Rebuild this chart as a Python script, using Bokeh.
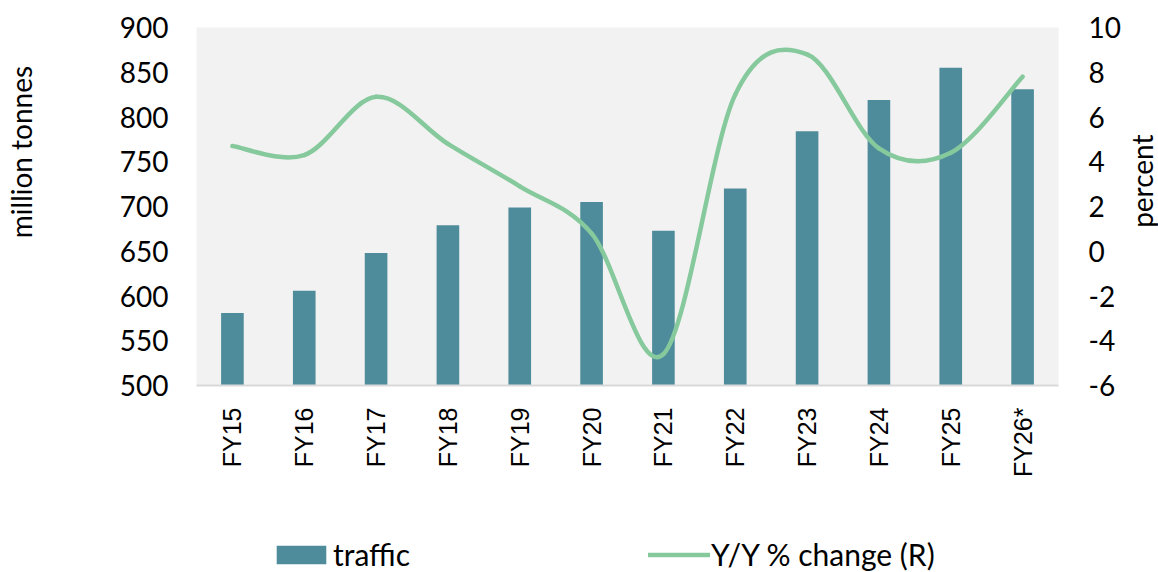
import math
from bokeh.plotting import figure
from bokeh.layouts import column, row
from bokeh.models import (Range1d, LinearAxis, FixedTicker, Legend, LegendItem,
                          Label, ColumnDataSource)
from bokeh.embed import file_html
from bokeh.resources import INLINE

# ---- data ----
categories = ["FY15", "FY16", "FY17", "FY18", "FY19", "FY20",
              "FY21", "FY22", "FY23", "FY24", "FY25", "FY26*"]
traffic = [581, 606, 648, 679, 699, 705, 673, 720, 784, 819, 855, 831]
yoy = [4.7, 4.3, 6.9, 4.8, 2.9, 0.8, -4.6, 7.0, 8.8, 4.6, 4.4, 7.8]
left_ticks = [500, 550, 600, 650, 700, 750, 800, 850, 900]
right_ticks = [-6, -4, -2, 0, 2, 4, 6, 8, 10]

BAR = "#4e8c9b"
LINE = "#86c99c"
NUM_FONT = "Lato"
CAT_FONT = "Liberation Sans"

idx = list(range(len(categories)))

TW = 50      # strip holding the left axis title
RW = 35      # strip holding the right axis title
PW = 1073    # main chart width
PH = 480     # main chart height
LH = 92      # legend strip height


def blank(width, height):
    f = figure(width=width, height=height, output_backend="svg", toolbar_location=None,
               x_range=Range1d(0, width), y_range=Range1d(0, height),
               x_axis_location=None, y_axis_location=None, min_border=0)
    f.grid.visible = False
    f.outline_line_color = None
    f.background_fill_color = "white"
    f.border_fill_color = "white"
    return f


# ---- main chart ----
p = figure(width=PW, height=PH, output_backend="svg", toolbar_location=None,
           x_range=Range1d(-0.5, len(categories) - 0.5),
           y_range=Range1d(left_ticks[0], left_ticks[-1]),
           min_border_left=196 - TW, min_border_right=PW - (196 - TW) - 864,
           min_border_top=27, min_border_bottom=95)
p.extra_y_ranges = {"pct": Range1d(right_ticks[0], right_ticks[-1])}
p.background_fill_color = "#f2f2f2"
p.border_fill_color = "white"
p.outline_line_color = None
p.grid.visible = False

bars = p.vbar(x=idx, top=traffic, bottom=left_ticks[0], width=0.315,
              fill_color=BAR, line_color=None)

# smoothed line (Catmull-Rom bezier segments through the data points)
n = len(yoy)
seg = dict(x0=[], y0=[], x1=[], y1=[], cx0=[], cy0=[], cx1=[], cy1=[])
for i in range(n - 1):
    im = max(i - 1, 0)
    ip = min(i + 2, n - 1)
    seg["x0"].append(idx[i]); seg["y0"].append(yoy[i])
    seg["x1"].append(idx[i + 1]); seg["y1"].append(yoy[i + 1])
    seg["cx0"].append(idx[i] + (idx[i + 1] - idx[im]) / 6)
    seg["cy0"].append(yoy[i] + (yoy[i + 1] - yoy[im]) / 6)
    seg["cx1"].append(idx[i + 1] - (idx[ip] - idx[i]) / 6)
    seg["cy1"].append(yoy[i + 1] - (yoy[ip] - yoy[i]) / 6)
p.bezier(source=ColumnDataSource(seg), x0="x0", y0="y0", x1="x1", y1="y1",
         cx0="cx0", cy0="cy0", cx1="cx1", cy1="cy1",
         y_range_name="pct", line_color=LINE, line_width=4.5, line_cap="round")

xa = p.xaxis[0]
xa.ticker = FixedTicker(ticks=idx)
xa.major_label_overrides = {i: c for i, c in zip(idx, categories)}
xa.major_label_orientation = math.pi / 2
xa.major_label_text_font = CAT_FONT
xa.major_label_text_font_size = "25px"
xa.major_label_text_color = "black"
xa.major_label_standoff = 22
xa.axis_line_color = "#d9d9d9"
xa.axis_line_width = 2
xa.major_tick_line_color = None
xa.major_tick_out = 0
xa.minor_tick_line_color = None

ya = p.yaxis[0]
ya.ticker = FixedTicker(ticks=left_ticks)
ya.major_label_text_font = NUM_FONT
ya.major_label_text_font_size = "28px"
ya.major_label_text_color = "black"
ya.major_label_standoff = 28
ya.major_tick_out = 0
ya.axis_line_color = None
ya.major_tick_line_color = None
ya.minor_tick_line_color = None

ra = LinearAxis(y_range_name="pct", ticker=FixedTicker(ticks=right_ticks))
ra.major_label_overrides = {t: str(t) for t in right_ticks}
ra.major_label_text_font = NUM_FONT
ra.major_label_text_font_size = "28px"
ra.major_label_text_color = "black"
ra.major_label_standoff = 30
ra.major_tick_out = 0
ra.axis_line_color = None
ra.major_tick_line_color = None
ra.minor_tick_line_color = None
p.add_layout(ra, "right")

# ---- axis title strips ----
tfig = blank(TW, PH)
tfig.add_layout(Label(x=20, y=PH - 167, text="million tonnes", angle=math.pi / 2,
                      text_align="center", text_baseline="middle",
                      text_font=NUM_FONT, text_font_size="28px", text_color="black"))

rfig = blank(RW, PH)
rfig.add_layout(Label(x=18, y=PH - 206, text="percent", angle=math.pi / 2,
                      text_align="center", text_baseline="middle",
                      text_font=NUM_FONT, text_font_size="28px", text_color="black"))

# ---- legend strip (legend glyphs taken from hidden copies of the two series) ----
lfig = blank(TW + PW + RW, LH)
r_bar = lfig.vbar(x=idx, top=traffic, width=0.315, fill_color=BAR, line_color=None,
                  visible=False)
r_line = lfig.line(x=idx, y=yoy, line_color=LINE, line_width=4.5, line_cap="round",
                   visible=False)
legend = Legend(items=[LegendItem(label="traffic", renderers=[r_bar]),
                       LegendItem(label="Y/Y % change (R)", renderers=[r_line])],
                location=(270, 0), orientation="horizontal",
                glyph_width=62, glyph_height=23, label_standoff=1, spacing=238,
                padding=0, margin=0, border_line_color=None,
                background_fill_alpha=0, inactive_fill_alpha=0,
                label_text_font=NUM_FONT, label_text_font_size="30px",
                label_text_color="black")
lfig.add_layout(legend)

layout = column(row(tfig, p, rfig), lfig)
open("out.html", "w").write(file_html(layout, INLINE))
